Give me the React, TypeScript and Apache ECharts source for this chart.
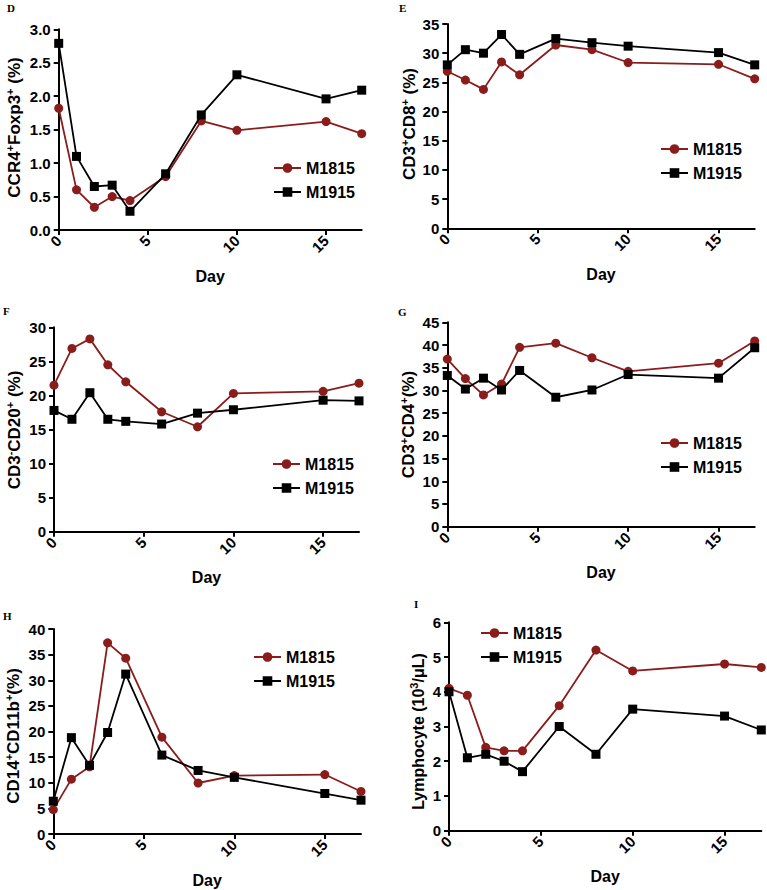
import React, { useEffect, useRef } from 'react';
import * as echarts from 'echarts';

const days = [0, 1, 2, 3, 4, 6, 8, 10, 15, 17];
const seriesNames = ['M1815', 'M1915'];
const xTickValues = [0, 5, 10, 15];

const dM1815 = [1.82, 0.6, 0.34, 0.5, 0.44, 0.8, 1.63, 1.49, 1.62, 1.44];
const dM1915 = [2.79, 1.1, 0.65, 0.67, 0.28, 0.84, 1.72, 2.32, 1.96, 2.09];
const eM1815 = [26.9, 25.4, 23.8, 28.5, 26.3, 31.4, 30.6, 28.4, 28.1, 25.6];
const eM1915 = [28.0, 30.6, 30.0, 33.2, 29.8, 32.5, 31.8, 31.2, 30.1, 28.0];
const fM1815 = [21.5, 26.9, 28.3, 24.5, 22.0, 17.6, 15.4, 20.3, 20.6, 21.8];
const fM1915 = [17.8, 16.5, 20.4, 16.5, 16.2, 15.8, 17.4, 17.9, 19.3, 19.2];
const gM1815 = [36.9, 32.6, 29.0, 31.4, 39.5, 40.4, 37.2, 34.2, 36.0, 40.9];
const gM1915 = [33.3, 30.3, 32.7, 30.1, 34.4, 28.5, 30.1, 33.5, 32.7, 39.4];
const hM1815 = [4.75, 10.7, 13.1, 37.3, 34.3, 18.9, 9.95, 11.4, 11.6, 8.3];
const hM1915 = [6.4, 18.8, 13.4, 19.8, 31.2, 15.4, 12.4, 11.05, 7.9, 6.6];
const iM1815 = [4.1, 3.9, 2.4, 2.3, 2.3, 3.6, 5.2, 4.6, 4.8, 4.7];
const iM1915 = [4.0, 2.1, 2.2, 2.0, 1.7, 3.0, 2.2, 3.5, 3.3, 2.9];

const panelLetters = ['D', 'E', 'F', 'G', 'H', 'I'];
const yMax = [3, 35, 30, 45, 40, 6];
const yInterval = [0.5, 5, 5, 5, 5, 1];
const yDecimals = [1, 0, 0, 0, 0, 0];
const yTitles = [
  '{b|CCR4}{s|+}{b|Foxp3}{s|+}{b| (%)}',
  '{b|CD3}{s|+}{b|CD8}{s|+}{b| (%)}',
  '{b|CD3}{s|-}{b|CD20}{s|+}{b| (%)}',
  '{b|CD3}{s|+}{b|CD4}{s|+}{b|(%)}',
  '{b|CD14}{s|+}{b|CD11b}{s|+}{b|(%)}',
  '{c|Lymphocyte (10}{t|3}{c|/μL)}',
];
const valuesA = [dM1815, eM1815, fM1815, gM1815, hM1815, iM1815];
const valuesB = [dM1915, eM1915, fM1915, gM1915, hM1915, iM1915];

// layout (pixels)
const grids = [
  { left: 58.7, top: 29.3, width: 303, height: 200.7 },
  { left: 447.3, top: 24, width: 307.4, height: 204.3 },
  { left: 54, top: 327.3, width: 305, height: 204.4 },
  { left: 447.3, top: 322.3, width: 307.4, height: 204.4 },
  { left: 53.3, top: 629, width: 307.7, height: 205 },
  { left: 449, top: 622.3, width: 312.3, height: 208.4 },
];
const legendPos = [
  { left: 273, top: 160 },
  { left: 660, top: 141 },
  { left: 272, top: 456 },
  { left: 660, top: 435 },
  { left: 253, top: 649 },
  { left: 480, top: 625 },
];
const yTitlePos = [
  { x: 14, y: 127.5 },
  { x: 409, y: 124 },
  { x: 14, y: 430 },
  { x: 408, y: 424.5 },
  { x: 13, y: 736 },
  { x: 418, y: 731.5 },
];
const letterPos = [
  { x: 7, y: 2 },
  { x: 399, y: 2 },
  { x: 3, y: 305 },
  { x: 398, y: 306 },
  { x: 3, y: 610 },
  { x: 414, y: 598 },
];

const FONT = '"Liberation Sans", Arial, Helvetica, sans-serif';
const RED = '#8B1C1C';
const BLACK = '#000000';

function buildOption() {
  const grid: any[] = [];
  const xAxis: any[] = [];
  const yAxis: any[] = [];
  const series: any[] = [];
  const legend: any[] = [];
  const graphic: any[] = [];

  for (let p = 0; p < 6; p++) {
    grid.push({ ...grids[p], containLabel: false });
    xAxis.push({
      type: 'value',
      gridIndex: p,
      min: 0,
      max: 17,
      interval: 5,
      name: 'Day',
      nameLocation: 'middle',
      nameGap: 38,
      nameTextStyle: { fontFamily: FONT, fontWeight: 'bold', fontSize: 16, color: '#000' },
      splitLine: { show: false },
      axisLine: { show: true, onZero: false, lineStyle: { color: '#000', width: 2 } },
      axisTick: { show: true, length: 5, lineStyle: { color: '#000', width: 2 }, customValues: xTickValues },
      axisLabel: {
        rotate: 45,
        margin: 8,
        fontFamily: FONT,
        fontWeight: 'bold',
        fontSize: 15,
        color: '#000',
        customValues: xTickValues,
      },
    });
    const dec = yDecimals[p];
    yAxis.push({
      type: 'value',
      gridIndex: p,
      min: 0,
      max: yMax[p],
      interval: yInterval[p],
      splitLine: { show: false },
      axisLine: { show: true, lineStyle: { color: '#000', width: 2 } },
      axisTick: { show: true, length: 5, lineStyle: { color: '#000', width: 2 } },
      axisLabel: {
        margin: 8,
        fontFamily: FONT,
        fontWeight: 'bold',
        fontSize: 15,
        color: '#000',
        formatter: (v: number) => v.toFixed(dec),
      },
    });
    series.push({
      type: 'line',
      name: seriesNames[0],
      xAxisIndex: p,
      yAxisIndex: p,
      data: days.map((d, i) => [d, valuesA[p][i]]),
      symbol: 'circle',
      symbolSize: 9,
      itemStyle: { color: RED },
      lineStyle: { color: RED, width: 1.8 },
      z: 2,
    });
    series.push({
      type: 'line',
      name: seriesNames[1],
      xAxisIndex: p,
      yAxisIndex: p,
      data: days.map((d, i) => [d, valuesB[p][i]]),
      symbol: 'rect',
      symbolSize: 9,
      itemStyle: { color: BLACK },
      lineStyle: { color: BLACK, width: 1.8 },
      z: 3,
    });
    legend.push({
      data: seriesNames,
      orient: 'vertical',
      left: legendPos[p].left,
      top: legendPos[p].top,
      itemWidth: 27,
      itemHeight: 12,
      itemGap: 8,
      padding: 0,
      selectedMode: false,
      textStyle: { fontFamily: FONT, fontWeight: 'bold', fontSize: 16, color: '#000', lineHeight: 16 },
    });
    graphic.push({
      type: 'text',
      x: yTitlePos[p].x,
      y: yTitlePos[p].y,
      rotation: Math.PI / 2,
      style: {
        text: yTitles[p],
        align: 'center',
        verticalAlign: 'middle',
        fill: '#000',
        rich: {
          b: { fontFamily: FONT, fontWeight: 'bold', fontSize: 17, fill: '#000', lineHeight: 20 },
          s: { fontFamily: FONT, fontWeight: 'bold', fontSize: 11, fill: '#000', verticalAlign: 'top', lineHeight: 12 },
          c: { fontFamily: FONT, fontWeight: 'bold', fontSize: 16, fill: '#000', lineHeight: 20 },
          t: { fontFamily: FONT, fontWeight: 'bold', fontSize: 11, fill: '#000', verticalAlign: 'top', lineHeight: 12 },
        },
      },
    });
    graphic.push({
      type: 'text',
      x: letterPos[p].x,
      y: letterPos[p].y,
      style: {
        text: panelLetters[p],
        font: 'bold 11px "Liberation Serif", "Times New Roman", serif',
        fill: '#000',
        align: 'left',
        verticalAlign: 'top',
      },
    });
  }

  return {
    animation: false,
    backgroundColor: '#ffffff',
    grid,
    xAxis,
    yAxis,
    series,
    legend,
    graphic,
  };
}

export default function App() {
  const ref = useRef<HTMLDivElement>(null);
  useEffect(() => {
    if (!ref.current) return;
    const chart = echarts.init(ref.current, undefined, { renderer: 'svg' });
    chart.setOption(buildOption() as any);
    return () => {
      chart.dispose();
    };
  }, []);
  return (
    <div
      ref={ref}
      style={{ position: 'fixed', left: 0, top: 0, width: 767, height: 890, background: '#fff' }}
    />
  );
}
